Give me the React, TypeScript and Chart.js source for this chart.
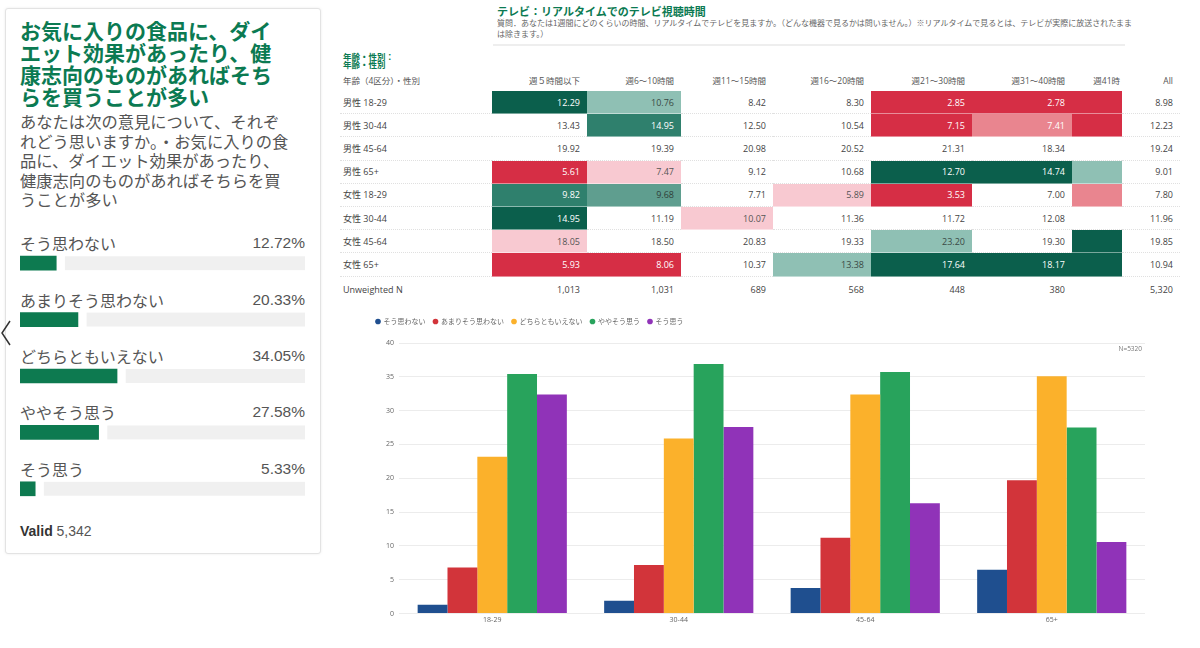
import React, { useEffect, useRef } from "react";
import { Chart, registerables } from "chart.js";
Chart.register(...registerables);

// ---------- Left panel data ----------
const optionLabels = ["そう思わない", "あまりそう思わない", "どちらともいえない", "ややそう思う", "そう思う"];
const optionPercents = [12.72, 20.33, 34.05, 27.58, 5.33];
const validCount = "5,342";

// ---------- Bar chart data ----------
const ageGroups = ["18-29", "30-44", "45-64", "65+"];
const seriesSoOmowanai = [1.3, 1.9, 3.8, 6.5];
const seriesAmari = [6.8, 7.2, 11.2, 19.7];
const seriesDochiramo = [23.2, 25.9, 32.4, 35.1];
const seriesYaya = [35.4, 36.9, 35.7, 27.5];
const seriesSoOmou = [32.4, 27.6, 16.3, 10.6];
const seriesColors = ["#1f4f8f", "#d2343a", "#fbb12b", "#28a35c", "#9033b8"];
const yMax = 40;
const yStep = 5;
const sampleNote = "N=5320";

// ---------- Table data ----------
const tableColumns = ["週５時間以下", "週6〜10時間", "週11〜15時間", "週16〜20時間", "週21〜30時間", "週31〜40時間", "週41時", "All"];
const tableRowLabels = ["男性 18-29", "男性 30-44", "男性 45-64", "男性 65+", "女性 18-29", "女性 30-44", "女性 45-64", "女性 65+"];
const tableValues: (number | null)[][] = [
  [12.29, 10.76, 8.42, 8.3, 2.85, 2.78, null, 8.98],
  [13.43, 14.95, 12.5, 10.54, 7.15, 7.41, null, 12.23],
  [19.92, 19.39, 20.98, 20.52, 21.31, 18.34, null, 19.24],
  [5.61, 7.47, 9.12, 10.68, 12.7, 14.74, null, 9.01],
  [9.82, 9.68, 7.71, 5.89, 3.53, 7.0, null, 7.8],
  [14.95, 11.19, 10.07, 11.36, 11.72, 12.08, null, 11.96],
  [18.05, 18.5, 20.83, 19.33, 23.2, 19.3, null, 19.85],
  [5.93, 8.06, 10.37, 13.38, 17.64, 18.17, null, 10.94],
];
const tableShades: string[][] = [
  ["G3", "G1", "", "", "R3", "R3", "R3", ""],
  ["", "G2", "", "", "R3", "R2", "R3", ""],
  ["", "", "", "", "", "", "", ""],
  ["R3", "R1", "", "", "G3", "G3", "G1", ""],
  ["G2", "G2b", "", "R1", "R3", "", "R2", ""],
  ["G3", "", "R1", "", "", "", "", ""],
  ["R1", "", "", "", "G1", "", "G3", ""],
  ["R3", "R3", "", "G1", "G3", "G3", "G3", ""],
];
const unweightedN = ["1,013", "1,031", "689", "568", "448", "380", "", "5,320"];

const shadeColors: Record<string, { bg: string; fg: string }> = {
  G3: { bg: "#0b5f4c", fg: "#ffffff" },
  G2: { bg: "#2f806d", fg: "#ffffff" },
  G2b: { bg: "#5f9e8f", fg: "#2f3f3a" },
  G1: { bg: "#8fc0b4", fg: "#3a4a45" },
  R3: { bg: "#d62e45", fg: "#ffffff" },
  R2: { bg: "#e9858f", fg: "#ffffff" },
  R1: { bg: "#f8c9d1", fg: "#555555" },
};

const GREEN = "#0b7a52";
const JP = '"Liberation Sans", "Noto Sans CJK JP", sans-serif';
const JP2 = '"Open Sans", "Noto Sans CJK JP", sans-serif';

function OptionBars() {
  const ref = useRef<HTMLCanvasElement>(null);
  useEffect(() => {
    const chart = new Chart(ref.current!, {
      type: "bar",
      data: {
        labels: optionLabels,
        datasets: [
          {
            data: optionPercents,
            backgroundColor: "#0d7a50",
            barThickness: 14,
            grouped: false,
            order: 0,
          } as any,
          {
            data: optionPercents.map((v) => [v, 100]),
            backgroundColor: "#f0f0f0",
            borderColor: "#ffffff",
            borderWidth: { left: 9, right: 0, top: 0, bottom: 0 },
            borderSkipped: false,
            barThickness: 14,
            grouped: false,
            order: 1,
          } as any,
        ],
      },
      options: {
        indexAxis: "y",
        responsive: false,
        animation: false,
        events: [],
        plugins: { legend: { display: false }, tooltip: { enabled: false } },
        scales: {
          x: { display: false, min: 0, max: 100 },
          y: { display: false },
        },
        layout: { padding: 0 },
      },
    });
    return () => chart.destroy();
  }, []);
  return <canvas ref={ref} width={285} height={282} style={{ position: "absolute", left: 20, top: 235 }} />;
}

const legendSpacer = {
  id: "legendSpacer",
  beforeInit(chart: any) {
    const legend = chart.legend;
    if (!legend) return;
    const origFit = legend.fit;
    legend.fit = function () {
      origFit.call(this);
      this.height += 8;
    };
  },
};

function GroupedBars() {
  const ref = useRef<HTMLCanvasElement>(null);
  useEffect(() => {
    const series = [seriesSoOmowanai, seriesAmari, seriesDochiramo, seriesYaya, seriesSoOmou];
    const chart = new Chart(ref.current!, {
      type: "bar",
      data: {
        labels: ageGroups,
        datasets: series.map((d, i) => ({
          label: optionLabels[i],
          data: d,
          backgroundColor: seriesColors[i],
          borderWidth: 0,
          categoryPercentage: 0.8,
          barPercentage: 1.0,
        })),
      },
      plugins: [legendSpacer],
      options: {
        responsive: false,
        animation: false,
        events: [],
        layout: { padding: { top: 0, right: 45, left: 8, bottom: 0 } },
        plugins: {
          tooltip: { enabled: false },
          legend: {
            position: "top",
            align: "start",
            labels: {
              usePointStyle: true,
              pointStyle: "circle",
              boxWidth: 4,
              boxHeight: 4,
              padding: 8,
              color: "#666",
              font: { size: 7, family: JP2 },
            },
          },
        },
        scales: {
          x: {
            grid: { display: false, drawTicks: false },
            border: { display: false },
            ticks: { color: "#666", font: { size: 7, family: JP2 }, padding: 2 },
          },
          y: {
            min: 0,
            max: yMax,
            ticks: { stepSize: yStep, color: "#666", font: { size: 7, family: JP2 }, padding: 5 },
            grid: { color: "#ececec", drawTicks: false },
            border: { display: false },
            afterFit: (scale: any) => {
              scale.width = 31;
            },
          },
        },
      },
    } as any);
    return () => chart.destroy();
  }, []);
  return <canvas ref={ref} width={830} height={316} style={{ position: "absolute", left: 360, top: 310 }} />;
}

function DataTable() {
  const colWidths = [152, 95, 94, 92, 98, 101, 100, 50, 58];
  const cellBase: React.CSSProperties = {
    height: 22.2,
    padding: "0 7px 0 0",
    textAlign: "right",
    borderBottom: "1px dotted #e0e0e0",
    whiteSpace: "nowrap",
    overflow: "hidden",
  };
  return (
    <table
      style={{
        position: "absolute",
        left: 340,
        top: 69,
        width: 840,
        tableLayout: "fixed",
        borderCollapse: "separate",
        borderSpacing: 0,
        fontFamily: JP2,
        fontSize: 9,
        color: "#444",
      }}
    >
      <colgroup>
        {colWidths.map((w, i) => (
          <col key={i} style={{ width: w }} />
        ))}
      </colgroup>
      <thead>
        <tr>
          <th style={{ ...cellBase, height: 22, textAlign: "left", paddingLeft: 3, fontWeight: "normal", color: "#555", fontSize: 8.5, borderBottom: "none" }}>
            年齢（4区分）・性別
          </th>
          {tableColumns.map((c, i) => (
            <th key={i} style={{ ...cellBase, height: 22, fontWeight: "normal", color: "#555", fontSize: 8.5, borderBottom: "none", paddingRight: i === 6 ? 2 : 7 }}>
              {c}
            </th>
          ))}
        </tr>
      </thead>
      <tbody>
        {tableRowLabels.map((label, r) => (
          <tr key={r}>
            <td style={{ ...cellBase, textAlign: "left", paddingLeft: 3 }}>{label}</td>
            {tableValues[r].map((v, c) => {
              const s = shadeColors[tableShades[r][c]];
              return (
                <td
                  key={c}
                  style={{
                    ...cellBase,
                    background: s ? s.bg : undefined,
                    color: s ? s.fg : "#444",
                    borderBottom: s ? "1px solid rgba(255,255,255,0.45)" : cellBase.borderBottom,
                  }}
                >
                  {v === null ? "" : v.toFixed(2)}
                </td>
              );
            })}
          </tr>
        ))}
        <tr>
          <td style={{ ...cellBase, textAlign: "left", paddingLeft: 3, borderBottom: "none", height: 25 }}>Unweighted N</td>
          {unweightedN.map((n, i) => (
            <td key={i} style={{ ...cellBase, borderBottom: "none", height: 25 }}>
              {n}
            </td>
          ))}
        </tr>
      </tbody>
    </table>
  );
}

export default function App() {
  const bandH = 282 / optionLabels.length;
  return (
    <div style={{ position: "absolute", left: 0, top: 0, width: 1200, height: 648, background: "#fff", overflow: "hidden", fontFamily: JP }}>
      {/* Left card */}
      <div
        style={{
          position: "absolute",
          left: 5,
          top: 8,
          width: 314,
          height: 544,
          border: "1px solid #e3e3e3",
          borderRadius: 3,
          boxShadow: "0 0 3px rgba(0,0,0,0.08)",
          background: "#fff",
        }}
      />
      <div style={{ position: "absolute", left: 20, top: 19, width: 295, fontSize: 21, lineHeight: "22px", fontWeight: "bold", color: GREEN, fontFamily: '"Noto Sans CJK JP", sans-serif', whiteSpace: "nowrap" }}>
        お気に入りの食品に、ダイ
        <br />
        エット効果があったり、健
        <br />
        康志向のものがあればそち
        <br />
        らを買うことが多い
      </div>
      <div style={{ position: "absolute", left: 20, top: 112, width: 295, fontSize: 16.3, lineHeight: "19.6px", color: "#555", fontFamily: '"Noto Sans CJK JP", sans-serif', whiteSpace: "nowrap" }}>
        あなたは次の意見について、それぞ
        <br />
        れどう思いますか。・お気に入りの食
        <br />
        品に、ダイエット効果があったり、
        <br />
        健康志向のものがあればそちらを買
        <br />
        うことが多い
      </div>
      {optionLabels.map((l, i) => (
        <div
          key={i}
          style={{
            position: "absolute",
            left: 20,
            width: 285,
            top: 235 + bandH * i + bandH / 2 - 31,
            height: 22,
            display: "flex",
            justifyContent: "space-between",
            alignItems: "center",
            fontSize: 15.5,
            color: "#555",
          }}
        >
          <span style={{ fontFamily: '"Noto Sans CJK JP", sans-serif', fontSize: 16 }}>{l}</span>
          <span>{optionPercents[i].toFixed(2)}%</span>
        </div>
      ))}
      <OptionBars />
      <div style={{ position: "absolute", left: 20, top: 523, fontSize: 14, color: "#555" }}>
        <b style={{ color: "#333" }}>Valid</b> {validCount}
      </div>
      <svg style={{ position: "absolute", left: 0, top: 318 }} width={14} height={32}>
        <polyline points="10,3 2,15 10,27" fill="none" stroke="#333" strokeWidth={1.5} />
      </svg>

      {/* Right top: title + table */}
      <div style={{ position: "absolute", left: 497, top: 3, fontSize: 11, fontWeight: "bold", color: GREEN, fontFamily: '"Noto Sans CJK JP", sans-serif', whiteSpace: "nowrap" }}>
        テレビ：リアルタイムでのテレビ視聴時間
      </div>
      <div style={{ position: "absolute", left: 497, top: 17, width: 703, fontSize: 8, lineHeight: "11px", color: "#666", fontFamily: '"Noto Sans CJK JP", sans-serif', whiteSpace: "nowrap", overflow: "hidden" }}>
        質問．あなたは1週間にどのくらいの時間、リアルタイムでテレビを見ますか。（どんな機器で見るかは問いません。）※リアルタイムで見るとは、テレビが実際に放送されたまま
        <br />
        は除きます。）
      </div>
      <div style={{ position: "absolute", left: 493, top: 44, width: 632, height: 2, background: "#eeeeee" }} />
      <div style={{ position: "absolute", left: 343, top: 52, fontSize: 8.5, lineHeight: "8px", fontWeight: "bold", color: GREEN, fontFamily: '"Noto Sans CJK JP", sans-serif' }}>
        年齢・性別：
        <br />
        年齢・性別
      </div>
      <DataTable />

      {/* Right bottom: grouped bars */}
      <GroupedBars />
      <div style={{ position: "absolute", left: 1100, top: 344, width: 42, textAlign: "right", fontSize: 6.5, color: "#777", fontFamily: JP2 }}>
        {sampleNote}
      </div>
    </div>
  );
}
